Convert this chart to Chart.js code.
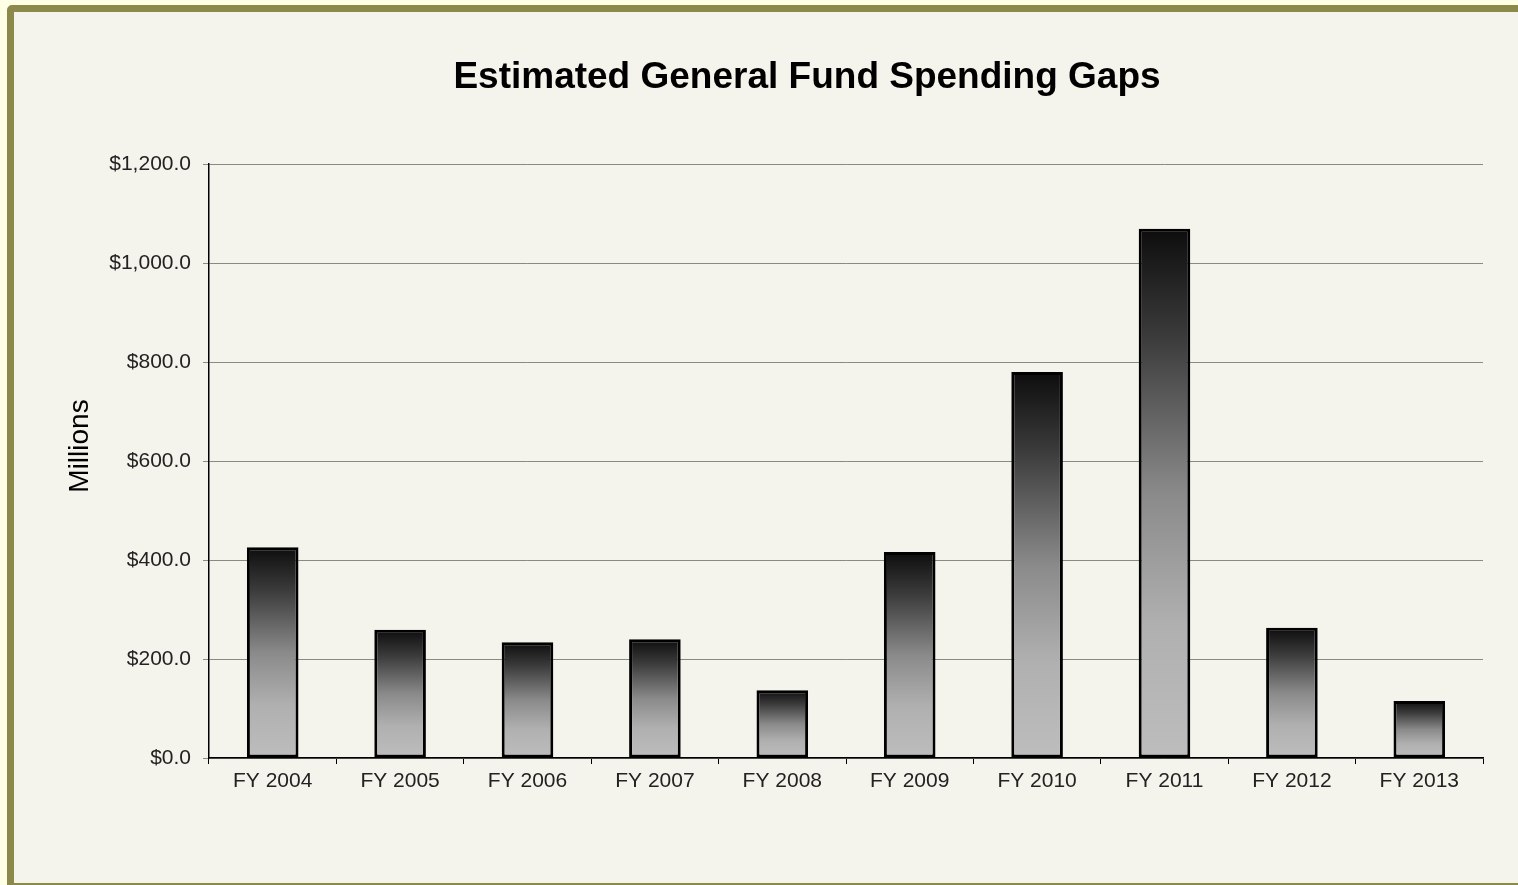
<!DOCTYPE html>
<html lang="en">
<head>
  <meta charset="UTF-8">
  <title>Estimated General Fund Spending Gaps</title>
  <script src="https://cdn.jsdelivr.net/npm/chart.js"></script>
  <style>
    html, body {
      margin: 0;
      padding: 0;
      width: 1518px;
      height: 885px;
      overflow: hidden;
      background-color: #ffffe6;
      font-family: 'Liberation Sans', Arial, sans-serif;
    }

    .frame {
      position: absolute;
      left: 7px;
      top: 5px;
      width: 1600px;
      height: 871px;
      border: 7px solid #8b8a4b;
      border-radius: 5px;
      background-color: #f4f4ec;
    }

    .wrap {
      position: absolute;
      left: 0;
      top: 0;
      width: 1518px;
      height: 885px;
    }
  </style>
</head>
<body>
  <div class="frame"></div>
  <div class="wrap">
    <canvas id="chart"></canvas>
  </div>

  <script>
    const categories = ['FY 2004', 'FY 2005', 'FY 2006', 'FY 2007', 'FY 2008',
                        'FY 2009', 'FY 2010', 'FY 2011', 'FY 2012', 'FY 2013'];
    const gaps = [426, 259, 234, 240, 137, 416, 780, 1069, 263, 115];

    const yMax = 1200;
    const yStep = 200;

    const chartTitle = 'Estimated General Fund Spending Gaps';
    const yTitle = 'Millions';

    const FONT = "'Liberation Sans', Arial, sans-serif";

    // each bar gets its own black-to-grey gradient, top to bottom
    function barGradient(context) {
      const chart = context.chart;
      const y = chart.scales.y;
      if (!chart.chartArea || !y || context.dataIndex === undefined) return '#888';
      const top = y.getPixelForValue(gaps[context.dataIndex]);
      const base = y.getPixelForValue(0);
      if (!isFinite(top) || !isFinite(base) || top === base) return '#888';
      const g = chart.ctx.createLinearGradient(0, top, 0, base);
      g.addColorStop(0, '#0d0d0d');
      g.addColorStop(0.2, '#3a3a3a');
      g.addColorStop(0.5, '#8a8a8a');
      g.addColorStop(0.75, '#b0b0b0');
      g.addColorStop(1, '#bdbdbd');
      return g;
    }

    // the original centres its titles a little off the chart box, so draw them by hand
    const titles = {
      id: 'titles',
      afterDraw(chart) {
        const c = chart.ctx;
        c.save();
        c.fillStyle = '#000000';
        c.textAlign = 'center';
        c.textBaseline = 'middle';
        c.font = 'bold 37px ' + FONT;
        c.fillText(chartTitle, 807, 78);
        c.translate(80, 446);
        c.rotate(-Math.PI / 2);
        c.font = '28px ' + FONT;
        c.fillText(yTitle, 0, 0);
        c.restore();
      }
    };

    const ctx = document.getElementById('chart').getContext('2d');

    new Chart(ctx, {
      type: 'bar',
      data: {
        labels: categories,
        datasets: [{
          label: 'Spending gap',
          data: gaps,
          backgroundColor: barGradient,
          borderColor: '#000000',
          borderWidth: 3,
          borderSkipped: false,
          categoryPercentage: 1,
          barPercentage: 0.405
        }]
      },
      options: {
        responsive: true,
        maintainAspectRatio: false,
        animation: false,
        layout: {
          padding: { left: 0, right: 35, top: 164, bottom: 0 }
        },
        plugins: {
          legend: { display: false },
          tooltip: { enabled: false },
          title: { display: false }
        },
        scales: {
          x: {
            offset: true,
            grid: {
              offset: true,
              drawOnChartArea: false,
              color: '#000000',
              tickLength: 6
            },
            border: { color: '#000000', width: 1.5 },
            ticks: {
              color: '#222222',
              padding: 5,
              font: { family: FONT, size: 21 }
            },
            afterFit: scale => { scale.height = 127; }
          },
          y: {
            min: 0,
            max: yMax,
            grid: {
              color: '#8a8a84',
              lineWidth: 1,
              tickLength: 6
            },
            border: { color: '#000000', width: 1.5 },
            ticks: {
              stepSize: yStep,
              color: '#222222',
              padding: 12,
              font: { family: FONT, size: 21 },
              callback: v => '$' + Number(v).toLocaleString('en-US', { minimumFractionDigits: 1, maximumFractionDigits: 1 })
            },
            afterFit: scale => { scale.width = 209; }
          }
        }
      },
      plugins: [titles]
    });
  </script>
</body>
</html>
